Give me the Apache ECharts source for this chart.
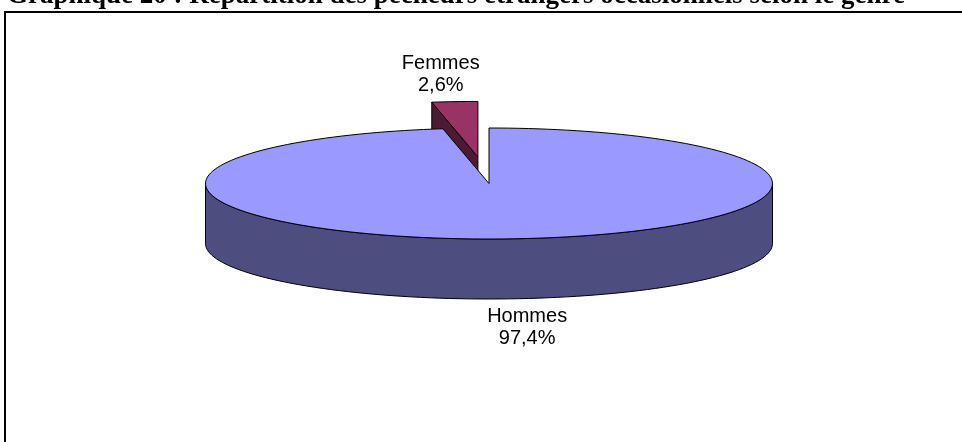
<!DOCTYPE html>
<html>
<head>
<meta charset="utf-8">
<script src="https://cdn.jsdelivr.net/npm/echarts@6.0.0/dist/echarts.min.js"></script>
<style>
  html, body { margin: 0; padding: 0; background: #fff; }
  #chart { width: 962px; height: 442px; }
</style>
</head>
<body>
<div id="chart"></div>
<script>
const chartTitle = 'Graphique 20 : Répartition des pêcheurs étrangers occasionnels selon le genre';
const categories = ['Hommes', 'Femmes'];
const shares = [97.4, 2.6];
// fraction of the radius each slice is pulled out
const exploded = [0, 0.48];

const topColors = ['#9999FF', '#993366'];
const sideColors = ['#4D4D80', '#4D1A33'];

// projected pie: ellipse radii and wall height
const cx = 489, cy = 183.5, rx = 283.5, ry = 55.5, depth = 60;
const rad = d => d * Math.PI / 180;

const total = shares.reduce((a, b) => a + b, 0);
let cursor = 90;
const slices = shares.map((v, i) => {
    const span = v / total * 360;
    const a2 = cursor, a1 = cursor - span;
    cursor = a1;
    const mid = (a1 + a2) / 2;
    return {
        a1, a2, mid,
        ox: cx + exploded[i] * rx * Math.cos(rad(mid)),
        oy: cy - exploded[i] * ry * Math.sin(rad(mid))
    };
});
// back slices first
const order = slices.map((s, i) => i)
    .sort((a, b) => Math.sin(rad(slices[b].mid)) - Math.sin(rad(slices[a].mid)));

function pt(s, a, dz) {
    return [s.ox + rx * Math.cos(rad(a)), s.oy - ry * Math.sin(rad(a)) + (dz || 0)];
}
function arc(s, from, to, dz) {
    const n = Math.max(2, Math.ceil(Math.abs(to - from) / 2));
    const out = [];
    for (let k = 0; k <= n; k++) out.push(pt(s, from + (to - from) * k / n, dz));
    return out;
}

const edge = { stroke: '#000', lineWidth: 1, lineJoin: 'round' };

function renderItem(params, api) {
    const i = params.dataIndex;
    const s = slices[i];
    const base = order.indexOf(i) * 10;
    const children = [];
    const o = [s.ox, s.oy], od = [s.ox, s.oy + depth];

    // radial walls that face the viewer
    if (Math.cos(rad(s.a1)) > 1e-6) {
        children.push({ type: 'polygon', z2: base + 1,
            shape: { points: [o, pt(s, s.a1), pt(s, s.a1, depth), od] },
            style: Object.assign({ fill: sideColors[i] }, edge) });
    }
    if (Math.cos(rad(s.a2)) < -1e-6) {
        children.push({ type: 'polygon', z2: base + 1,
            shape: { points: [o, pt(s, s.a2), pt(s, s.a2, depth), od] },
            style: Object.assign({ fill: sideColors[i] }, edge) });
    }
    // outer wall, front half only
    for (let k = -2; k <= 1; k++) {
        const lo = Math.max(s.a1, -180 + 360 * k), hi = Math.min(s.a2, 360 * k);
        if (hi - lo > 1e-6) {
            const pts = arc(s, lo, hi, 0).concat(arc(s, hi, lo, depth));
            children.push({ type: 'polygon', z2: base + 2,
                shape: { points: pts },
                style: Object.assign({ fill: sideColors[i] }, edge) });
        }
    }
    // top face
    children.push({ type: 'polygon', z2: base + 3,
        shape: { points: [o].concat(arc(s, s.a1, s.a2, 0)) },
        style: Object.assign({ fill: topColors[i] }, edge) });

    // label outside the slice
    const front = Math.sin(rad(s.mid)) < 0;
    const anchor = pt(s, s.mid, front ? depth : 0);
    children.push({ type: 'text', z2: 100,
        x: anchor[0] + (front ? 15 : -14),
        y: anchor[1] + (front ? 6.5 : -5),
        style: {
            text: categories[i] + '\n' + shares[i].toFixed(1).replace('.', ',') + '%',
            fill: '#000',
            font: '20px "Liberation Sans", Arial, sans-serif',
            lineHeight: 22,
            align: 'center',
            verticalAlign: front ? 'top' : 'bottom'
        } });

    return { type: 'group', children };
}

const chart = echarts.init(document.getElementById('chart'), null, { renderer: 'canvas' });
chart.setOption({
    backgroundColor: '#fff',
    animation: false,
    title: {
        text: chartTitle,
        left: 7,
        top: -17,
        padding: 0,
        textStyle: {
            fontFamily: '"Liberation Serif", "Times New Roman", serif',
            fontWeight: 'bold',
            fontSize: 27,
            color: '#000'
        }
    },
    graphic: [{
        type: 'rect',
        silent: true,
        shape: { x: 5, y: 12, width: 1000, height: 500 },
        style: { fill: 'none', stroke: '#000', lineWidth: 2 }
    }],
    series: [{
        type: 'custom',
        coordinateSystem: 'none',
        silent: true,
        renderItem: renderItem,
        data: categories.map((c, i) => ({ name: c, value: shares[i] }))
    }]
});
</script>
</body>
</html>
